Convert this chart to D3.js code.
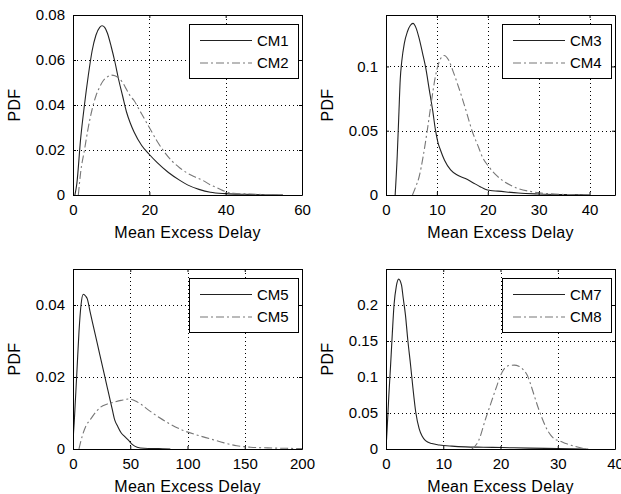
<!DOCTYPE html>
<html>
<head>
<meta charset="utf-8">
<title>Mean Excess Delay PDF</title>
<script src="https://d3js.org/d3.v7.min.js"></script>
<style>
  body { margin: 0; background: #fff; }
  svg { display: block; font-family: "Liberation Sans", Arial, sans-serif; }
  .tick text { font-size: 15px; fill: #000; }
  .axlabel { font-size: 16px; letter-spacing: 0.3px; fill: #000; }
  .legtext { font-size: 15px; fill: #000; }
</style>
</head>
<body>
<div id="chart"></div>
<script>
// data: [mean excess delay, pdf]
var cm1 = [[0.5,0],[1,0.005],[2,0.025],[3,0.04],[4,0.053],[5,0.064],[6,0.071],[7,0.0745],[7.6,0.0752],[8.3,0.0745],
  [9,0.072],[10,0.066],[11,0.059],[12,0.051],[13,0.044],[14,0.037],[15,0.032],[16,0.028],[18,0.022],[20,0.018],
  [22,0.0145],[25,0.01],[28,0.0065],[30,0.0045],[33,0.0025],[36,0.0012],[40,0.0006],[45,0.0003],[50,0.0001],[55,0]];
var cm2 = [[1.4,0],[2,0.01],[3,0.02],[4,0.03],[5,0.038],[6,0.044],[7,0.048],[8,0.051],[9,0.0525],[10,0.0533],
  [11,0.053],[12,0.052],[13,0.05],[14,0.047],[15,0.044],[16,0.042],[17,0.039],[18,0.036],[20,0.03],[22,0.024],
  [24,0.019],[26,0.015],[28,0.012],[30,0.0097],[32,0.008],[34,0.0065],[36,0.0045],[38,0.003],[40,0.0015],
  [42,0.0008],[45,0.0005],[50,0.0002],[55,0]];
var cm3 = [[1.8,0],[2.2,0.03],[2.5,0.06],[2.8,0.09],[3.1,0.104],[3.6,0.118],[4.2,0.127],[4.8,0.132],[5.3,0.1335],
  [5.9,0.13],[6.5,0.122],[7.2,0.11],[7.8,0.099],[8.5,0.082],[9.2,0.065],[9.7,0.051],[10.2,0.041],[10.7,0.035],
  [11.5,0.027],[12.7,0.0195],[14,0.0155],[15.6,0.0128],[17,0.0098],[18.5,0.0065],[19.5,0.0045],[20.5,0.0035],
  [22,0.003],[26,0.0015],[30,0.0008],[35,0.0003],[40,0]];
var cm4 = [[5.2,0],[5.8,0.006],[6.5,0.014],[7.3,0.03],[8.1,0.05],[8.9,0.072],[9.7,0.092],[10.4,0.103],[11.4,0.1085],
  [12.3,0.105],[13.2,0.096],[14,0.087],[15,0.075],[16,0.062],[16.9,0.05],[18,0.039],[19,0.029],[20.2,0.022],
  [21.5,0.016],[23,0.011],[24.4,0.0078],[26,0.005],[28.6,0.0026],[32,0.001],[36,0.0003],[40,0]];
var cm5 = [[0,0],[0.4,0.004],[1,0.007],[2,0.013],[3.5,0.022],[5.2,0.0324],[7,0.04],[9,0.043],[11,0.0425],[12.5,0.0417],
  [15,0.038],[18,0.0338],[21,0.0296],[24,0.0254],[27,0.0212],[30,0.017],[32,0.0142],[34.3,0.011],[36.5,0.008],
  [38.7,0.0065],[42,0.0045],[45,0.0035],[48.8,0.0023],[52,0.0012],[56,0.0005],[62,0.0002],[75,0.0001],[85,0]];
var cm6 = [[5.2,0],[8,0.0035],[11,0.0062],[15.4,0.0083],[20,0.0103],[24,0.0116],[30,0.0125],[35.7,0.013],[42,0.0135],
  [48.8,0.0139],[54,0.0134],[59,0.0125],[66,0.0108],[75,0.0088],[85,0.0069],[96.7,0.0051],[108,0.0039],[120,0.0028],
  [132,0.0017],[143,0.0009],[155,0.0005],[170,0.0003],[185,0.0002],[200,0.0001]];
var cm7 = [[0,0],[0.2,0.028],[0.5,0.075],[0.8,0.116],[1.1,0.16],[1.4,0.2],[1.8,0.226],[2.2,0.236],[2.7,0.228],[3,0.21],
  [3.4,0.186],[3.8,0.152],[4.3,0.116],[4.7,0.085],[5.2,0.051],[5.8,0.028],[6.3,0.018],[6.9,0.0116],[8,0.0075],
  [9.3,0.0056],[11.5,0.004],[13.9,0.003],[17,0.0025],[20.3,0.002],[25,0.0012],[30,0.0006],[35,0]];
var cm8 = [[15,0],[16.2,0.012],[17.4,0.042],[18.3,0.063],[19.2,0.084],[20.3,0.107],[21.5,0.116],[22.4,0.1165],
  [23.2,0.115],[24,0.11],[24.7,0.102],[25.3,0.089],[25.9,0.074],[26.6,0.057],[27.3,0.042],[28,0.029],[28.8,0.019],
  [29.5,0.0135],[30.2,0.0116],[31.4,0.0075],[32.6,0.0046],[34.3,0.001],[35.5,0]];

// axis limits and tick labels per panel
var xTicks1 = [0, 20, 40, 60],        yTicks1 = ["0", "0.02", "0.04", "0.06", "0.08"];
var xTicks2 = [0, 10, 20, 30, 40],    yTicks2 = ["0", "0.05", "0.1"];
var xTicks3 = [0, 50, 100, 150, 200], yTicks3 = ["0", "0.02", "0.04"];
var xTicks4 = [0, 10, 20, 30, 40],    yTicks4 = ["0", "0.05", "0.1", "0.15", "0.2"];
var legend1 = ["CM1", "CM2"], legend2 = ["CM3", "CM4"], legend3 = ["CM5", "CM5"], legend4 = ["CM7", "CM8"];

var W = 621, H = 494;
var svg = d3.select("#chart").append("svg").attr("width", W).attr("height", H);

var panels = [
  {x0: 73,  y0: 15,  xMax: 60,  yMax: 0.08, xt: xTicks1, yt: yTicks1, series: [cm1, cm2], names: legend1},
  {x0: 386, y0: 15,  xMax: 45,  yMax: 0.14, xt: xTicks2, yt: yTicks2, series: [cm3, cm4], names: legend2},
  {x0: 73,  y0: 269, xMax: 200, yMax: 0.05, xt: xTicks3, yt: yTicks3, series: [cm5, cm6], names: legend3},
  {x0: 386, y0: 269, xMax: 40,  yMax: 0.25, xt: xTicks4, yt: yTicks4, series: [cm7, cm8], names: legend4}
];
var pw = 229, ph = 180;
var styles = [
  {stroke: "#222", dash: null},
  {stroke: "#777", dash: "8,3,2,3"}
];

panels.forEach(function(p, i) {
  var g = svg.append("g").attr("transform", "translate(" + p.x0 + "," + p.y0 + ")");
  var x = d3.scaleLinear().domain([0, p.xMax]).range([0, pw]);
  var y = d3.scaleLinear().domain([0, p.yMax]).range([ph, 0]);
  var yVals = p.yt.map(Number);

  g.append("rect").attr("width", pw).attr("height", ph).attr("fill", "#fff");

  // dotted grid
  g.selectAll(".gx").data(p.xt.filter(function(d) { return d > 0 && d < p.xMax; }))
    .enter().append("line")
      .attr("x1", function(d) { return Math.round(x(d)) + 0.5; })
      .attr("x2", function(d) { return Math.round(x(d)) + 0.5; })
      .attr("y1", 0).attr("y2", ph)
      .attr("stroke", "#000").attr("stroke-dasharray", "1,3");
  g.selectAll(".gy").data(yVals.filter(function(d) { return d > 0 && d < p.yMax; }))
    .enter().append("line")
      .attr("y1", function(d) { return Math.round(y(d)) + 0.5; })
      .attr("y2", function(d) { return Math.round(y(d)) + 0.5; })
      .attr("x1", 0).attr("x2", pw)
      .attr("stroke", "#000").attr("stroke-dasharray", "1,3");

  // curves
  g.append("clipPath").attr("id", "clip" + i)
    .append("rect").attr("width", pw).attr("height", ph);
  var line = d3.line()
    .x(function(d) { return x(d[0]); })
    .y(function(d) { return y(d[1]); })
    .curve(d3.curveMonotoneX);
  p.series.forEach(function(s, k) {
    g.append("path").datum(s)
      .attr("d", line)
      .attr("clip-path", "url(#clip" + i + ")")
      .attr("fill", "none")
      .attr("stroke", styles[k].stroke)
      .attr("stroke-width", 1.1)
      .attr("stroke-dasharray", styles[k].dash);
  });

  // legend
  var lg = g.append("g").attr("transform", "translate(" + (pw - 113) + ",9)");
  lg.append("rect").attr("x", 0.5).attr("y", 0.5).attr("width", 109).attr("height", 54)
    .attr("fill", "#fff").attr("stroke", "#000");
  p.names.forEach(function(n, k) {
    var yy = 16 + k * 22.5;
    lg.append("line").attr("x1", 11).attr("x2", 63).attr("y1", yy + 0.5).attr("y2", yy + 0.5)
      .attr("stroke", styles[k].stroke).attr("stroke-width", 1.1)
      .attr("stroke-dasharray", styles[k].dash);
    lg.append("text").attr("class", "legtext").attr("x", 68).attr("y", yy + 5.5).text(n);
  });

  // axes with inward ticks on all four sides
  var fmt = function(d) { return p.yt[yVals.indexOf(d)]; };
  g.append("g").attr("transform", "translate(0," + ph + ")")
    .call(d3.axisBottom(x).tickValues(p.xt).tickSize(-3).tickSizeOuter(0).tickPadding(9.5));
  g.append("g")
    .call(d3.axisLeft(y).tickValues(yVals).tickFormat(fmt).tickSize(-3).tickSizeOuter(0).tickPadding(8));
  g.append("g")
    .call(d3.axisTop(x).tickValues(p.xt).tickSize(-3).tickSizeOuter(0).tickFormat(""));
  g.append("g").attr("transform", "translate(" + pw + ",0)")
    .call(d3.axisRight(y).tickValues(yVals).tickSize(-3).tickSizeOuter(0).tickFormat(""));
  g.selectAll(".domain, .tick line").attr("stroke", "#000");
  g.selectAll(".tick text").attr("font-family", null).attr("font-size", null);

  // axis titles
  g.append("text").attr("class", "axlabel")
    .attr("x", pw / 2).attr("y", ph + 43).attr("text-anchor", "middle")
    .text("Mean Excess Delay");
  g.append("text").attr("class", "axlabel")
    .attr("transform", "translate(-53," + (ph / 2) + ") rotate(-90)")
    .attr("text-anchor", "middle")
    .text("PDF");
});
</script>
</body>
</html>
